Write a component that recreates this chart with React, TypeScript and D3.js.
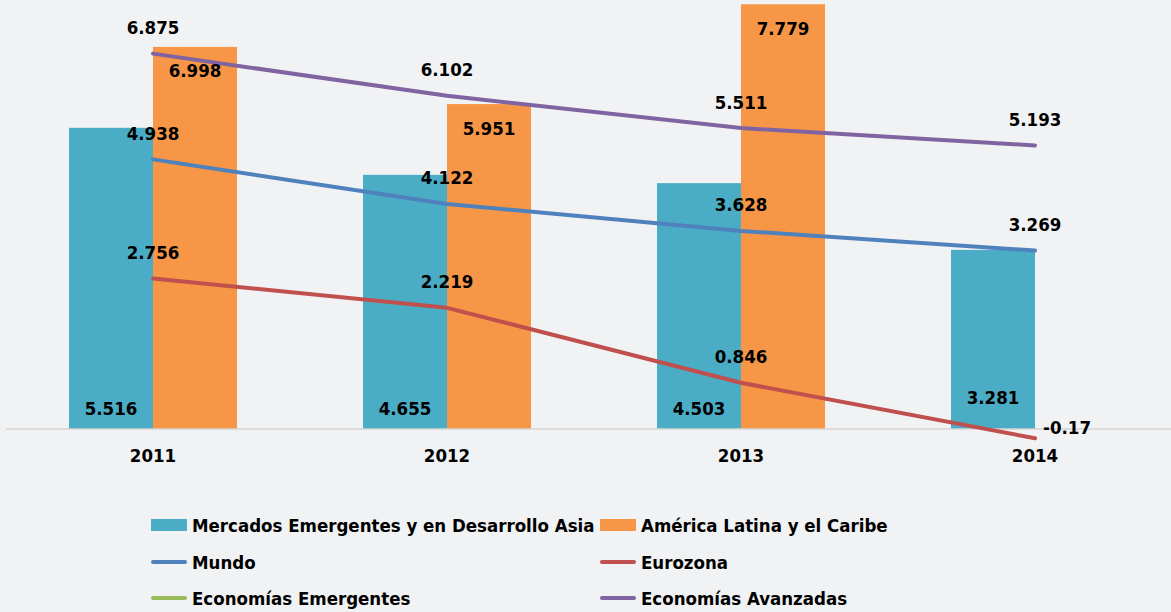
import React from "react";
import * as d3 from "d3";

const years = ["2011", "2012", "2013", "2014"];
const asia: (number | null)[] = [5.516, 4.655, 4.503, 3.281];
const latam: (number | null)[] = [6.998, 5.951, 7.779, null];
const mundo: (number | null)[] = [4.938, 4.122, 3.628, 3.269];
const eurozona: (number | null)[] = [2.756, 2.219, 0.846, -0.17];
const emergentes: (number | null)[] = [null, null, null, null];
const avanzadas: (number | null)[] = [6.875, 6.102, 5.511, 5.193];

const W = 1171;
const H = 612;
const FONT = "'DejaVu Sans Condensed', 'DejaVu Sans', sans-serif";

const C = {
  asia: "#4BACC6",
  latam: "#F79646",
  mundo: "#4F81BD",
  euro: "#C0504D",
  emerg: "#9BBB59",
  avanz: "#8064A2",
};

export default function App() {
  const x = d3.scaleBand<string>().domain(years).range([6, 1182]).padding(0);
  const y = d3.scaleLinear().domain([0, 8]).range([429, 429 - 8 * 54.6]);
  const bw = 84;
  const cx = (i: number) => (x(years[i]) as number) + x.bandwidth() / 2;

  const line = d3
    .line<[number, number | null]>()
    .defined((d) => d[1] !== null)
    .x((d) => cx(d[0]))
    .y((d) => y(d[1] as number))
    .curve(d3.curveLinear);

  const lines = [
    { data: mundo, color: C.mundo },
    { data: eurozona, color: C.euro },
    { data: emergentes, color: C.emerg },
    { data: avanzadas, color: C.avanz },
  ];

  const lbl = {
    fontFamily: FONT,
    fontWeight: 700,
    fontSize: 18.5,
    fill: "#000",
    textAnchor: "middle" as const,
    dominantBaseline: "central" as const,
  };

  const legendRows = [
    [
      { label: "Mercados Emergentes y en Desarrollo Asia", color: C.asia, type: "rect" },
      { label: "América Latina y el Caribe", color: C.latam, type: "rect" },
    ],
    [
      { label: "Mundo", color: C.mundo, type: "line" },
      { label: "Eurozona", color: C.euro, type: "line" },
    ],
    [
      { label: "Economías Emergentes", color: C.emerg, type: "line" },
      { label: "Economías Avanzadas", color: C.avanz, type: "line" },
    ],
  ];
  const legendY = [525, 562, 598];
  const legendX = [151, 600];

  return (
    <div style={{ position: "fixed", left: 0, top: 0 }}>
      <svg width={W} height={H} style={{ display: "block", background: "#F1F2F4" }}>
        <rect width={W} height={H} fill="#F1F2F4" />
        {/* bars */}
        {years.map((yr, i) => (
          <g key={yr}>
            {asia[i] !== null && (
              <rect x={cx(i) - bw} y={y(asia[i] as number)} width={bw} height={y(0) - y(asia[i] as number)} fill={C.asia} />
            )}
            {latam[i] !== null && (
              <rect x={cx(i)} y={y(latam[i] as number)} width={bw} height={y(0) - y(latam[i] as number)} fill={C.latam} />
            )}
          </g>
        ))}
        {/* axis */}
        <line x1={6} x2={W} y1={y(0)} y2={y(0)} stroke="#D4D4D4" strokeWidth={1.5} />
        {years.map((yr, i) => (
          <text key={yr} x={cx(i)} y={455} {...lbl}>{yr}</text>
        ))}
        {/* lines */}
        {lines.map((l, k) => (
          <path
            key={k}
            d={line(l.data.map((v, i) => [i, v] as [number, number | null])) || ""}
            fill="none"
            stroke={l.color}
            strokeWidth={4}
            strokeLinecap="round"
            strokeLinejoin="round"
          />
        ))}
        {/* bar labels */}
        {years.map((yr, i) =>
          asia[i] !== null ? (
            <text key={"a" + yr} x={cx(i) - bw / 2} y={i === 3 ? 397 : 408} {...lbl}>
              {String(asia[i])}
            </text>
          ) : null
        )}
        {years.map((yr, i) =>
          latam[i] !== null ? (
            <text key={"l" + yr} x={cx(i) + bw / 2} y={y(latam[i] as number) + 24} {...lbl}>
              {String(latam[i])}
            </text>
          ) : null
        )}
        {/* line labels */}
        {lines.map((l, k) =>
          l.data.map((v, i) => {
            if (v === null) return null;
            if (v < 0) {
              return (
                <text key={k + "-" + i} x={cx(i) + 8} y={y(v) - 11} {...lbl} textAnchor="start">
                  {String(v)}
                </text>
              );
            }
            return (
              <text key={k + "-" + i} x={cx(i)} y={y(v) - 26} {...lbl}>
                {String(v)}
              </text>
            );
          })
        )}
        {/* legend */}
        {legendRows.map((row, r) =>
          row.map((it, c) => (
            <g key={r + "-" + c} transform={`translate(${legendX[c]},${legendY[r]})`}>
              {it.type === "rect" ? (
                <rect x={0} y={-6} width={36} height={12} fill={it.color} />
              ) : (
                <line x1={2} x2={34} y1={0} y2={0} stroke={it.color} strokeWidth={4} strokeLinecap="round" />
              )}
              <text x={41} y={0} {...lbl} textAnchor="start">{it.label}</text>
            </g>
          ))
        )}
      </svg>
    </div>
  );
}
